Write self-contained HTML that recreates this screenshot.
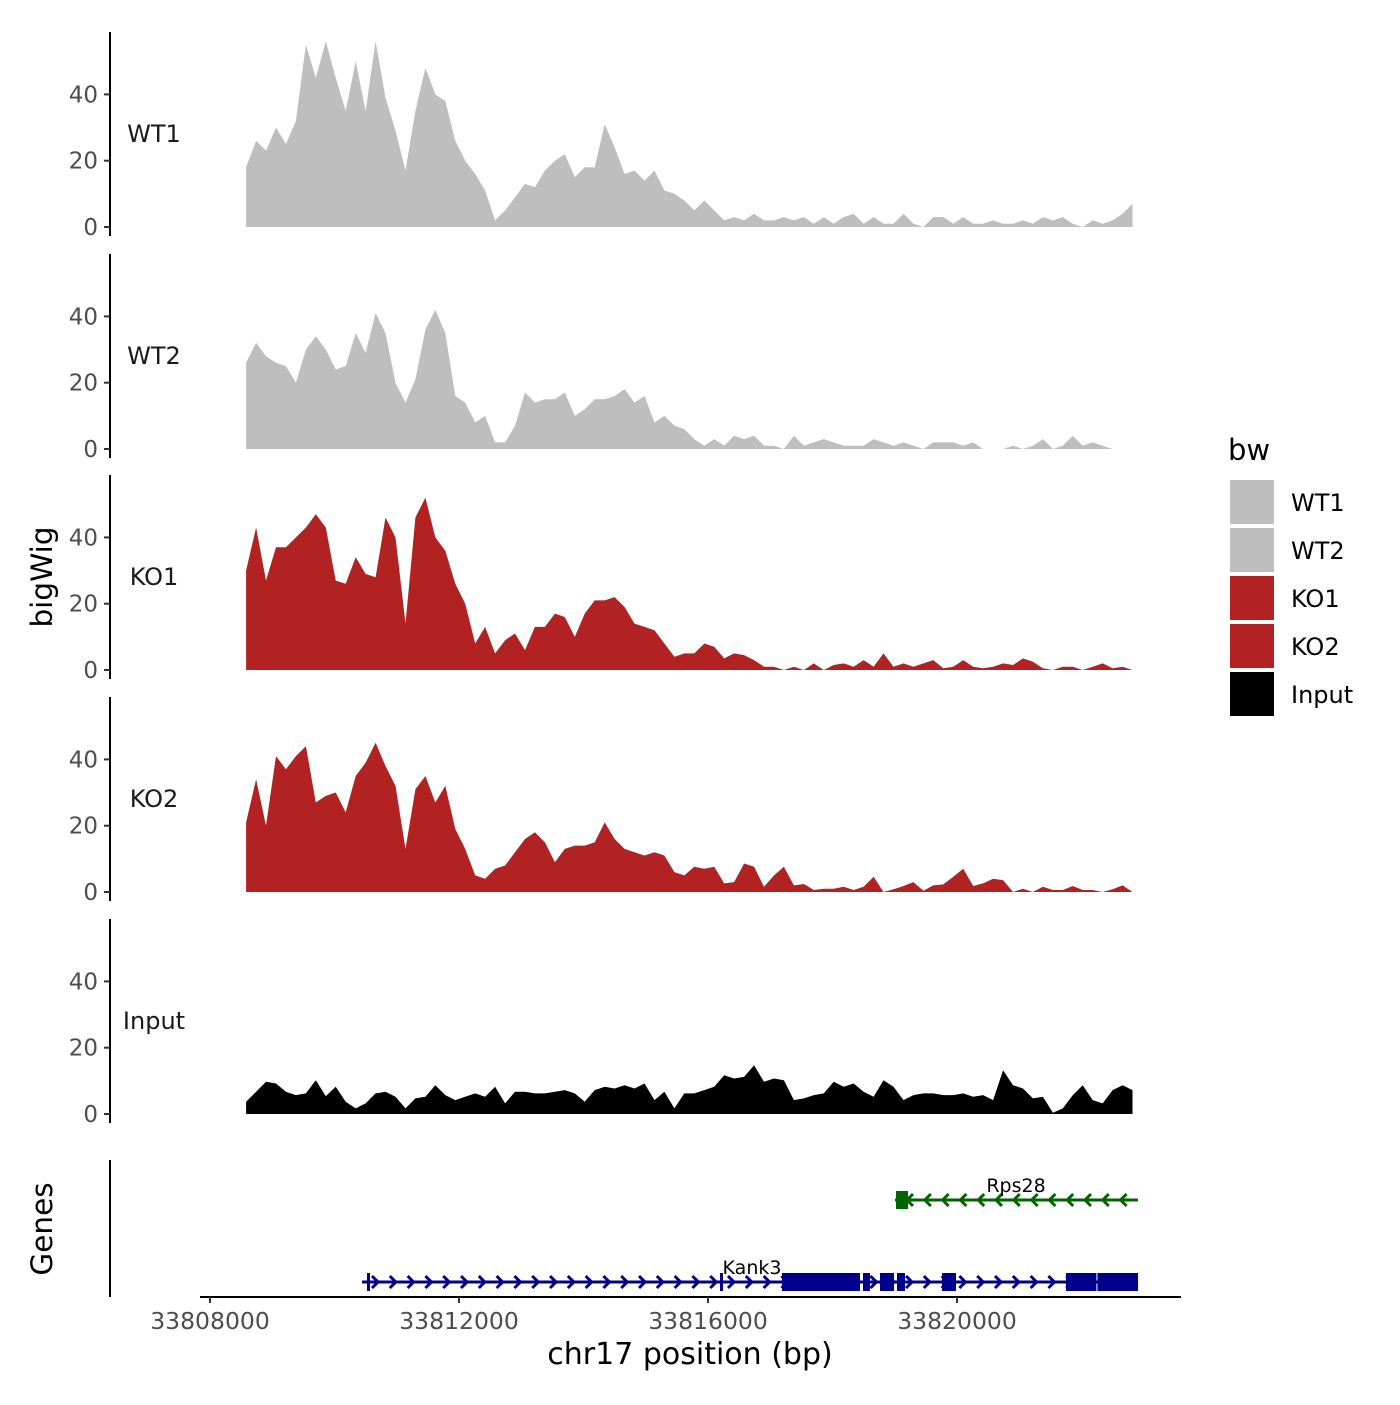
<!DOCTYPE html>
<html><head><meta charset="utf-8"><style>
body{margin:0;background:#fff;}
svg text{font-family:"DejaVu Sans","Liberation Sans",sans-serif;}
</style></head><body>
<svg id="chart" width="1400" height="1400" viewBox="0 0 1400 1400" xmlns="http://www.w3.org/2000/svg"></svg>
<script>
const trackNames = ["WT1","WT2","KO1","KO2","Input"];
const trackColors = ["#bebebe","#bebebe","#b22222","#b22222","#000000"];
const binStart = 33808580;
const binStep = 160;
const wt1 = [18,26,23,30,25,32,55,45,56,45,35,50,35,56,39,29,17,35,48,40,38,26,20,16,11,2,5,9,13,12,17,20,22,15,18,18,31,24,16,17,14,17,11,10,8,
5,8,5,2,3,2,4,2,2,3,2,3,1,3,1,3,4,1,3,1,1,4,1,0,3,3,1,3,1,1,2,1,1,2,1,3,2,3,1,0,2,1,2,4,7];
const wt2 = [26,32,28,26,25,20,30,34,30,24,25,35,29,41,35,20,14,21,36,42,35,16,14,8,10,2,2,7,17,14,15,15,17,10,12,15,15,16,18,14,16,8,10,7,6,
3,1,3,1,4,3,4,1,1,0,4,1,2,3,2,1,1,1,3,2,1,2,1,0,2,2,2,1,2,0,0,0,1,0,1,3,0,1,4,1,2,1,0,0,0];
const ko1 = [30,43,27,37,37,40,43,47,43,27,26,34,29,28,46,40,14,46,52,40,36,26,20,8,13,5,9,11,6,13,13,17,16,10,17,21,21,22,19,14,13,12,8,4,5,
5,8,7,3.5,5,4.5,3,1,1,0,1,0,2,0,1.5,2,1,3,1,5,1,2,1,2,3,0.5,1,3,1,0.5,1,2,1.5,3.5,2.5,0.5,0,1,1,0,1,2,0.5,1,0];
const ko2 = [21,34,20,41,37,41,44,27,29,30,24,35,39,45,38,32,13,31,35,27,32,19,13,5,4,7,8,12,16,18,15,9,13,14,14,15,21,16,13,12,11,12,11,6,5,
7.6,7,7.6,2.6,3,8.6,7.6,1.6,5,7.6,2,2.4,0.6,1,1,1.6,0.6,1.6,4.6,0,0.8,1.8,3,0.4,2,2.3,4.6,7,1.8,2.6,4,3.6,0,1,0,1.6,0.6,0.6,1.8,0.6,0.6,0,0.8,2,0];
const inputTrack = [3.7,6.7,9.7,9.2,6.7,5.7,6.2,10.2,5.4,8.2,3.7,1.7,3.2,6.2,6.7,5.2,1.7,4.7,5.2,8.7,5.7,4.2,5.2,6.2,5.2,8.2,3.2,6.7,6.7,6.2,6.2,6.7,7.2,6.2,3.7,7.2,8.2,7.7,8.7,7.7,9.2,4.2,6.7,1.7,6.2,
6.2,7.2,8.2,11.7,10.7,11.2,14.7,9.7,10.7,10.2,4.2,4.7,5.7,6.2,9.7,8.2,9.2,6.7,5.2,10.2,8.2,4.2,5.7,6.2,6.2,5.7,5.7,6.2,5.2,5.7,4.2,13.2,8.7,7.7,4.7,5.2,0.4,1.7,5.7,8.7,4.2,3.2,7.2,8.7,7.2];
const trackValues = [wt1,wt2,ko1,ko2,inputTrack];
const yTicks = [0,20,40];
const xTicks = [33808000,33812000,33816000,33820000];
const xTickLabels = ["33808000","33812000","33816000","33820000"];
const kank3Span = [33810442,33822908];
const kank3Exons = [[33810522,33810570],[33816193,33816241],[33817189,33818442],[33818490,33818602],[33818763,33818988],[33819036,33819164],[33819759,33819984],[33821751,33822240],[33822256,33822908]];
const rps28Span = [33819004,33822908];
const rps28Exons = [[33819020,33819213]];

const NS="http://www.w3.org/2000/svg";
const svg=document.getElementById('chart');
function mk(tag,attrs,parent){const e=document.createElementNS(NS,tag);for(const k in attrs)e.setAttribute(k,attrs[k]);(parent||svg).appendChild(e);return e;}
function xs(bp){return 210+(bp-33808000)*0.06225;}
const panelZero=[227,449,670,892,1114];
function ys(p,v){return panelZero[p]-v*3.315;}

for(let p=0;p<5;p++){
  const g=mk('g',{});
  
  
  const vals=trackValues[p];
  let d='M'+xs(binStart).toFixed(1)+','+ys(p,0);
  for(let i=0;i<vals.length;i++){d+=' L'+xs(binStart+i*binStep).toFixed(1)+','+ys(p,vals[i]).toFixed(1);}
  d+=' L'+xs(binStart+(vals.length-1)*binStep).toFixed(1)+','+ys(p,0)+' Z';
  const a=mk('path',{d:d,fill:trackColors[p]},g);
  
  
  const ax=mk('line',{x1:110,x2:110,y1:panelZero[p]-195,y2:panelZero[p]+9,stroke:'#000','stroke-width':2},g);
  
  
  for(const t of yTicks){
    const y=ys(p,t);
    mk('line',{x1:104,x2:110,y1:y,y2:y,stroke:'#333','stroke-width':2},g);
    const tl=mk('text',{x:98,y:y+8,'text-anchor':'end','font-size':23,fill:'#4d4d4d'},g);
    tl.textContent=t;
    
    
  }
  const lb=mk('text',{x:154,y:panelZero[p]-85,'text-anchor':'middle','font-size':24,fill:'#1a1a1a'},g);
  lb.textContent=trackNames[p];
  
  
}

// genes panel
const gg=mk('g',{});


const gax=mk('line',{x1:110,x2:110,y1:1160,y2:1297,stroke:'#000','stroke-width':2},gg);


function drawGene(span,exons,y,color,dir,name,labelX){
  const g=mk('g',{},gg);
  
  
  mk('line',{x1:xs(span[0]),x2:xs(span[1]),y1:y,y2:y,stroke:color,'stroke-width':3},g);
  for(let x=xs(span[0])+14;x<xs(span[1])-2;x+=17.8){
    const pts=dir>0?`${x-4},${y-6} ${x+2},${y} ${x-4},${y+6}`:`${x+4},${y-6} ${x-2},${y} ${x+4},${y+6}`;
    mk('polyline',{points:pts,fill:'none',stroke:color,'stroke-width':3},g);
  }
  for(const e of exons){
    const w=Math.max(3,xs(e[1])-xs(e[0]));
    const r=mk('rect',{x:xs(e[0]),y:y-9,width:w,height:18,fill:color},g);
    
    
  }
  const t=mk('text',{x:labelX,y:y-8,'text-anchor':'middle','font-size':19,fill:'#000'},g);
  t.textContent=name;
  
  
}
drawGene(kank3Span,kank3Exons,1282,'#00008b',1,'Kank3',752);
drawGene(rps28Span,rps28Exons,1200,'#006400',-1,'Rps28',1016);

// x axis
const xa=mk('g',{});


mk('line',{x1:200,x2:1181,y1:1297,y2:1297,stroke:'#000','stroke-width':2},xa);
for(let i=0;i<xTicks.length;i++){
  const x=xs(xTicks[i]);
  mk('line',{x1:x,x2:x,y1:1297,y2:1303,stroke:'#333','stroke-width':2},xa);
  const t=mk('text',{x:x,y:1329,'text-anchor':'middle','font-size':23.5,fill:'#4d4d4d'},xa);
  t.textContent=xTickLabels[i];
  
  
}
const xt=mk('text',{x:690,y:1364,'text-anchor':'middle','font-size':30,fill:'#000'});
xt.textContent='chr17 position (bp)';


const yt=mk('text',{x:0,y:0,'text-anchor':'middle','font-size':29.5,fill:'#000',transform:'translate(52,577) rotate(-90)'});
yt.textContent='bigWig';


const gt=mk('text',{x:0,y:0,'text-anchor':'middle','font-size':29.5,fill:'#000',transform:'translate(52,1229) rotate(-90)'});
gt.textContent='Genes';



// legend
const lg=mk('g',{});


const ltitle=mk('text',{x:1228,y:460,'font-size':29,fill:'#000'},lg);
ltitle.textContent='bw';


for(let i=0;i<5;i++){
  const e=mk('g',{},lg);
  
  
  mk('rect',{x:1230,y:480+i*48,width:44,height:44,fill:trackColors[i]},e);
  const t=mk('text',{x:1291,y:511+i*48,'font-size':24,fill:'#000'},e);
  t.textContent=trackNames[i];
}
</script>
</body></html>
